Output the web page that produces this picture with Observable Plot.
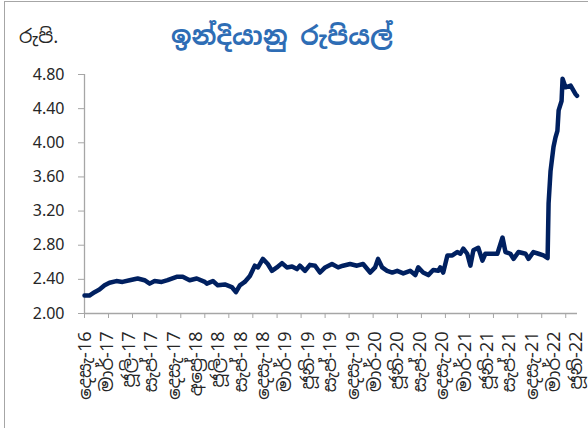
<!DOCTYPE html>
<html><head><meta charset="utf-8">
<script src="https://cdn.jsdelivr.net/npm/d3@7"></script>
<script src="https://cdn.jsdelivr.net/npm/@observablehq/plot@0.6"></script>
<style>
body{margin:0;background:#fff;}
#wrap{position:relative;width:588px;height:428px;overflow:hidden;font-family:"Noto Sans Sinhala","Noto Serif Sinhala","Iskoola Pota","Nirmala UI","Noto Sans",sans-serif;}
#frame{position:absolute;left:4px;top:1px;width:700px;height:600px;border:1.5px solid #a6a6a6;}
#title{position:absolute;left:171px;top:19px;font-size:25.5px;font-weight:bold;color:#2e6db5;white-space:nowrap;}
#unit{position:absolute;left:19px;top:24px;font-size:19px;color:#262626;}
#chart{position:absolute;left:0;top:0;}
</style></head><body>
<div id="wrap"><div id="frame"></div><div id="title">ඉන්දියානු රුපියල්</div><div id="unit">රුපි.</div><div id="chart"></div></div>
<script>
const dates = ["2016-12-30","2017-01-19","2017-02-09","2017-03-01","2017-03-22","2017-04-11","2017-05-09","2017-06-03","2017-07-02","2017-08-04","2017-09-01","2017-09-22","2017-10-12","2017-11-10","2017-12-04","2018-01-10","2018-02-04","2018-03-04","2018-04-02","2018-05-05","2018-05-13","2018-06-07","2018-06-27","2018-07-26","2018-08-23","2018-09-09","2018-09-25","2018-10-15","2018-11-05","2018-11-25","2018-12-08","2018-12-28","2019-01-17","2019-02-03","2019-02-23","2019-03-16","2019-04-05","2019-04-26","2019-05-16","2019-05-28","2019-06-18","2019-07-08","2019-07-29","2019-08-18","2019-09-08","2019-10-06","2019-10-31","2019-11-20","2019-12-19","2020-01-16","2020-02-10","2020-03-10","2020-03-30","2020-04-11","2020-04-28","2020-05-18","2020-06-08","2020-06-28","2020-07-23","2020-08-20","2020-09-10","2020-09-22","2020-10-12","2020-11-02","2020-11-22","2020-12-13","2020-12-21","2021-01-02","2021-01-19","2021-02-08","2021-02-28","2021-03-13","2021-03-25","2021-04-10","2021-04-23","2021-05-05","2021-05-25","2021-06-11","2021-06-23","2021-07-22","2021-08-11","2021-09-01","2021-09-13","2021-10-03","2021-10-16","2021-11-05","2021-12-04","2021-12-16","2022-01-05","2022-01-26","2022-02-15","2022-03-04","2022-03-08","2022-03-16","2022-03-28","2022-04-05","2022-04-13","2022-04-18","2022-04-30","2022-05-04","2022-05-16","2022-06-06","2022-06-26","2022-07-02"];
const values = [2.21,2.21,2.25,2.28,2.33,2.36,2.38,2.37,2.39,2.41,2.39,2.35,2.38,2.37,2.39,2.43,2.43,2.39,2.41,2.37,2.35,2.38,2.33,2.34,2.31,2.25,2.33,2.37,2.44,2.56,2.54,2.64,2.58,2.50,2.54,2.59,2.54,2.55,2.52,2.56,2.50,2.57,2.56,2.48,2.54,2.58,2.54,2.56,2.58,2.56,2.58,2.48,2.54,2.64,2.54,2.50,2.48,2.50,2.47,2.50,2.45,2.54,2.48,2.45,2.51,2.50,2.54,2.48,2.68,2.68,2.72,2.70,2.76,2.70,2.56,2.74,2.77,2.62,2.70,2.70,2.70,2.89,2.72,2.70,2.64,2.72,2.70,2.64,2.72,2.70,2.68,2.65,3.29,3.67,3.95,4.06,4.14,4.38,4.49,4.75,4.65,4.67,4.57,4.55];
const yTicks = [2.00,2.40,2.80,3.20,3.60,4.00,4.40,4.80];
const xLabelDates = ["2016-12-31","2017-03-31","2017-06-30","2017-09-30","2017-12-31","2018-03-31","2018-06-30","2018-09-30","2018-12-31","2019-03-31","2019-06-30","2019-09-30","2019-12-31","2020-03-31","2020-06-30","2020-09-30","2020-12-31","2021-03-31","2021-06-30","2021-09-30","2021-12-31","2022-03-31","2022-06-30"];
const xLabels = ["දෙසැ-16","මාර්-17","ජූලි-17","සැප්-17","දෙසැ-17","අප්‍රේ-18","ජූලි-18","සැප්-18","දෙසැ-18","මාර්-19","ජූනි-19","සැප්-19","දෙසැ-19","මාර්-20","ජූනි-20","සැප්-20","දෙසැ-20","මාර්-21","ජූනි-21","සැප්-21","දෙසැ-21","මාර්-22","ජූනි-22"];

const parse = s => new Date(s + "T00:00:00Z");
const data = dates.map((d, i) => ({date: parse(d), value: values[i]}));
const labelDates = xLabelDates.map(parse);
const labelMap = new Map(labelDates.map((d, i) => [+d, xLabels[i]]));
const start = parse("2016-12-30"), end = parse("2022-07-04");
const tickDates = d3.range(21).map(i => d3.utcDay.offset(start, Math.round(i * 98.2)));
const sinhala = '"Noto Sans Sinhala","Noto Serif Sinhala","Iskoola Pota","Nirmala UI","Noto Sans",sans-serif';

const plot = Plot.plot({
  width: 588, height: 428,
  marginLeft: 84, marginRight: 11, marginTop: 74, marginBottom: 115,
  style: {fontFamily: '"Noto Sans",sans-serif', fontSize: "16px", color: "#262626", background: "transparent", overflow: "visible"},
  x: {type: "utc", domain: [start, end]},
  y: {domain: [2, 4.8]},
  marks: [
    Plot.ruleX([start], {stroke: "#a6a6a6", strokeWidth: 1.3}),
    Plot.ruleY([2], {stroke: "#a6a6a6", strokeWidth: 1.3}),
    Plot.axisY({ticks: yTicks, tickFormat: d => d.toFixed(2), tickSize: 6, tickPadding: 14, stroke: "#a6a6a6", fontSize: 16, fontFamily: '"Noto Sans",sans-serif', label: null}),
    Plot.axisX({ticks: tickDates, tickFormat: () => "", tickSize: 5, stroke: "#a6a6a6", label: null}),
    Plot.axisX({ticks: labelDates, tickFormat: d => labelMap.get(+d), tickSize: 0, tickPadding: 18, tickRotate: -90, fontSize: 18, fontFamily: sinhala, fill: "#262626", label: null}),
    Plot.line(data, {x: "date", y: "value", stroke: "#002060", strokeWidth: 4.5, strokeLinejoin: "round", strokeLinecap: "round"})
  ]
});
document.getElementById("chart").appendChild(plot);
</script>
</body></html>
